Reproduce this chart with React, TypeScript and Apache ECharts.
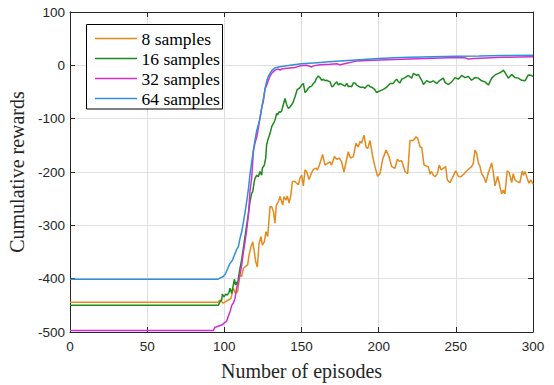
import React, { useEffect, useRef } from "react";
import * as echarts from "echarts";

const xTicks = [0, 50, 100, 150, 200, 250, 300];
const yTicks = [-500, -400, -300, -200, -100, 0, 100];
const seriesNames = ["8 samples", "16 samples", "32 samples", "64 samples"];
const colors = ["#E38B1C", "#1E8A1E", "#D22ED2", "#3390D6"];

const epOrange = [0, 96, 97.2, 99.3, 100.9, 102.6, 104.3, 105.8, 107.3, 108.6, 110.1, 111.2, 112.3, 113.4, 115.1, 116, 117.3, 118.4, 119.4, 120.3, 121.4, 122.5, 123.8, 124.6, 125.9, 127, 128.1, 129.6, 130.7, 131.8, 132.8, 133.7, 135, 136.1, 137.8, 138.7, 139.9, 140.8, 141.9, 143, 144.1, 145.8, 146.9, 148, 149, 150.1, 151.2, 152.3, 153.3, 154.9, 156.6, 157.7, 159.4, 160.3, 161.6, 163.7, 165.2, 167.4, 168.5, 169.5, 171.3, 172.8, 174.5, 176, 177.5, 180.3, 181.8, 183.6, 185.3, 186.8, 187.9, 188.9, 190.5, 191.8, 192.9, 194.4, 196.1, 197.6, 199.3, 200.9, 202.6, 204.8, 206.7, 208.4, 210.6, 212.1, 213.4, 214.9, 217.1, 218.8, 220.3, 222.5, 224.2, 225.3, 226.8, 227.9, 229.4, 231.1, 232.2, 233.3, 234.3, 235.4, 236.5, 238, 239.3, 240.4, 241.9, 243.4, 244.5, 246.2, 247.9, 249.9, 251.6, 253.3, 255.5, 257, 258.5, 260.2, 261.3, 262.4, 263.5, 264.6, 265.6, 266.7, 268.2, 269.5, 271.1, 272.1, 273.2, 274.3, 275.4, 277.1, 278.6, 279.7, 280.8, 281.8, 283.3, 284.6, 286.2, 287.2, 288.3, 289.8, 291.5, 293, 293.9, 294.8, 296.3, 297.4, 298.7, 300];
const valOrange = [-444, -444, -440, -446, -443, -440, -437, -418, -428, -424, -393, -396, -381, -378, -374, -356, -340, -331, -349, -368, -378, -334, -321, -337, -331, -312, -321, -265, -265, -274, -296, -262, -256, -246, -262, -246, -253, -245, -258, -246, -218, -218, -221, -224, -212, -206, -226, -196, -199, -214, -201, -195, -193, -196, -187, -167, -187, -183, -181, -187, -171, -176, -174, -181, -200, -162, -174, -171, -146, -153, -143, -146, -131, -153, -156, -141, -171, -190, -208, -203, -176, -159, -171, -190, -193, -176, -180, -179, -199, -203, -141, -141, -134, -137, -153, -154, -187, -189, -190, -204, -199, -206, -209, -203, -187, -196, -193, -190, -215, -220, -210, -198, -208, -209, -203, -198, -194, -190, -184, -159, -165, -183, -189, -203, -210, -220, -201, -193, -183, -201, -226, -208, -228, -241, -234, -241, -198, -201, -220, -203, -215, -218, -220, -198, -206, -199, -212, -221, -215, -223];

const epGreen = [0, 96.1, 97.2, 98.3, 98.7, 99.8, 100.9, 101.9, 103, 103.7, 104.8, 105.8, 106.5, 107.3, 108, 108.6, 109.1, 110.1, 111.2, 112.3, 113.4, 114.5, 115.6, 116.6, 117.7, 118.4, 119.4, 119.9, 121, 122, 123.1, 124.2, 124.6, 125.9, 126.8, 127.4, 128.5, 129.6, 130.7, 131.8, 132.8, 133.9, 134.6, 135.4, 136.1, 137.1, 138.2, 139.3, 140.4, 141.5, 142.5, 144.3, 145.8, 147.3, 148.6, 150.1, 151.2, 152.3, 153.3, 154.4, 155.5, 156.6, 157.7, 158.7, 159.8, 160.9, 162, 163.1, 164.2, 165.2, 166.3, 168.5, 169.6, 170.6, 171.7, 172.8, 173.9, 174.9, 177.1, 178.2, 179.3, 180.4, 181.4, 182.5, 183.6, 184.7, 185.7, 186.8, 187.9, 190.1, 191.1, 192.2, 193.3, 194.4, 195.5, 196.5, 197.6, 198.7, 199.8, 200.9, 203.1, 205.2, 207.4, 209.5, 210.6, 211.7, 212.8, 213.8, 214.9, 217.1, 219.2, 221.4, 222.5, 224.6, 225.7, 227.9, 229, 231.1, 233.3, 235.4, 237.6, 239.7, 241.9, 243, 245.2, 247.3, 249.5, 251.6, 253.8, 255.9, 258.1, 260.2, 262.4, 264.6, 266.7, 268.9, 271.1, 273.2, 275.4, 277.6, 279.7, 280.8, 281.8, 284, 286.2, 288.3, 290.5, 292.7, 294.8, 297, 299.1, 300];
const valGreen = [-450, -450, -443, -440, -429, -434, -429, -431, -426, -418, -428, -412, -401, -412, -406, -412, -399, -381, -365, -343, -321, -299, -278, -256, -240, -237, -218, -212, -206, -209, -199, -206, -193, -187, -174, -149, -137, -128, -115, -109, -103, -90, -93, -87, -88, -86, -74, -62, -74, -81, -78, -71, -59, -45, -43, -37, -34, -51, -48, -43, -40, -39, -34, -31, -24, -20, -23, -28, -26, -29, -28, -31, -40, -39, -34, -31, -37, -34, -37, -39, -34, -40, -39, -40, -33, -33, -37, -39, -41, -41, -43, -39, -37, -40, -41, -43, -46, -51, -49, -48, -45, -41, -34, -34, -29, -26, -31, -33, -26, -23, -19, -24, -15, -19, -17, -28, -36, -29, -32, -29, -34, -28, -24, -32, -36, -31, -23, -26, -19, -23, -21, -28, -23, -24, -29, -31, -37, -24, -18, -15, -12, -9, -13, -24, -17, -23, -24, -28, -29, -18, -19, -21];

const epMagenta = [0, 92.9, 94, 98.3, 100.4, 101.5, 102.6, 103.7, 104.8, 105.8, 106.9, 108, 109.1, 110.1, 111.2, 112.3, 113.4, 114.5, 115.6, 116.6, 117.7, 118.8, 119.9, 121, 122, 123.1, 124.2, 125.3, 126.4, 127.4, 128.5, 129.6, 130.7, 132.8, 135, 136.1, 137.1, 139.3, 142.5, 145.8, 149, 153.3, 156.6, 157.7, 162, 168.5, 172.8, 175, 179.3, 182.5, 185.7, 192.2, 200.9, 210, 220.3, 230, 245, 256, 258, 262, 280, 300];
const valMagenta = [-497, -497, -491, -487, -482, -480, -470, -462, -450, -446, -437, -417, -406, -393, -376, -351, -331, -308, -281, -236, -212, -162, -145, -135, -118, -98, -80, -66, -43, -38, -28, -20, -15, -9, -7, -9, -7, -6, -5, -4, -1, 0, -3, -1, 1, 2, 3, 1, 4, 6, 8, 9, 10, 11, 12, 13, 14, 14, 12, 13, 15, 16];

const epBlue = [0, 96, 97.2, 99.3, 100.9, 102.2, 103.7, 105.2, 106.5, 108, 109.1, 110.1, 111.2, 112.3, 113.4, 114.5, 115.6, 116.6, 117.7, 118.8, 119.9, 121, 122, 123.1, 124.2, 125.3, 126.4, 127.4, 128.5, 129.6, 130.7, 131.8, 132.8, 135, 137.2, 142.4, 150, 160, 170, 180, 190, 200, 210, 220, 235, 250, 265, 280, 300];
const valBlue = [-401, -401, -399, -396, -390, -381, -371, -366, -356, -345, -340, -325, -313, -295, -276, -255, -232, -205, -182, -160, -140, -122, -112, -100, -80, -64, -44, -30, -21, -15, -10, -7, -5, -3, -2, 0, 3, 5, 7, 9, 11, 13, 14, 15, 16, 17, 17.5, 18.5, 19];

const zip = (xs: number[], ys: number[]) => xs.map((x, i) => [x, ys[i]]);

export default function App() {
  const ref = useRef<HTMLDivElement>(null);
  useEffect(() => {
    if (!ref.current) return;
    const chart = echarts.init(ref.current, undefined, { renderer: "svg" });
    const axisColor = "#262626";
    const gridColor = "#DFDFDF";
    const serif = "Times New Roman";
    const tickFont = { fontFamily: "Liberation Sans", fontSize: 13.5, color: axisColor };
    const datasets = [zip(epOrange, valOrange), zip(epGreen, valGreen), zip(epMagenta, valMagenta), zip(epBlue, valBlue)];

    const legendElements: any[] = [
      {
        type: "rect",
        shape: { x: 86.5, y: 24.5, width: 136, height: 84.5 },
        style: { fill: "#ffffff", stroke: "#000000", lineWidth: 1 },
        z: 100,
      },
    ];
    seriesNames.forEach((name, i) => {
      const cy = 38.5 + 20 * i;
      legendElements.push({
        type: "line",
        shape: { x1: 95, y1: cy, x2: 137, y2: cy },
        style: { stroke: colors[i], lineWidth: 1.5 },
        z: 101,
      });
      legendElements.push({
        type: "text",
        x: 141.5,
        y: cy,
        style: {
          text: name,
          fill: "#000000",
          fontFamily: serif,
          fontSize: 17.5,
          verticalAlign: "middle",
          align: "left",
        },
        z: 101,
      });
    });

    chart.setOption({
      animation: false,
      backgroundColor: "#ffffff",
      textStyle: { fontFamily: serif },
      grid: { left: 70, right: 21, top: 12, bottom: 53, containLabel: false, outerBoundsMode: "none" },
      graphic: { elements: legendElements },
      xAxis: [
        {
          type: "value",
          min: 0,
          max: 300,
          interval: 50,
          name: "Number of episodes",
          nameLocation: "middle",
          nameGap: 29,
          nameTextStyle: { fontFamily: serif, fontSize: 20, color: axisColor },
          axisLine: { show: true, onZero: false, lineStyle: { color: axisColor, width: 1 } },
          axisTick: { show: true, inside: true, length: 5, lineStyle: { color: axisColor } },
          axisLabel: { ...tickFont, margin: 7, formatter: (v: number) => (xTicks.includes(v) ? String(v) : "") },
          splitLine: { show: true, lineStyle: { color: gridColor, width: 1 } },
        },
        {
          type: "value",
          position: "top",
          min: 0,
          max: 300,
          interval: 50,
          axisLine: { show: true, onZero: false, lineStyle: { color: axisColor, width: 1 } },
          axisTick: { show: true, inside: true, length: 5, lineStyle: { color: axisColor } },
          axisLabel: { show: false },
          splitLine: { show: false },
        },
      ],
      yAxis: [
        {
          type: "value",
          min: -500,
          max: 100,
          interval: 100,
          name: "Cumulative rewards",
          nameLocation: "middle",
          nameGap: 38,
          nameTextStyle: { fontFamily: serif, fontSize: 20, color: axisColor },
          axisLine: { show: true, onZero: false, lineStyle: { color: axisColor, width: 1 } },
          axisTick: { show: true, inside: true, length: 5, lineStyle: { color: axisColor } },
          axisLabel: { ...tickFont, margin: 5, formatter: (v: number) => (yTicks.includes(v) ? String(v) : "") },
          splitLine: { show: true, lineStyle: { color: gridColor, width: 1 } },
        },
        {
          type: "value",
          position: "right",
          min: -500,
          max: 100,
          interval: 100,
          axisLine: { show: true, onZero: false, lineStyle: { color: axisColor, width: 1 } },
          axisTick: { show: true, inside: true, length: 5, lineStyle: { color: axisColor } },
          axisLabel: { show: false },
          splitLine: { show: false },
        },
      ],
      series: seriesNames.map((name, i) => ({
        name,
        type: "line",
        xAxisIndex: 0,
        yAxisIndex: 0,
        data: datasets[i],
        showSymbol: false,
        symbol: "none",
        color: colors[i],
        lineStyle: { color: colors[i], width: 1.5 },
        emphasis: { disabled: true },
      })),
    });
    return () => chart.dispose();
  }, []);
  return <div ref={ref} style={{ position: "fixed", left: 0, top: 0, width: 554, height: 385 }} />;
}
